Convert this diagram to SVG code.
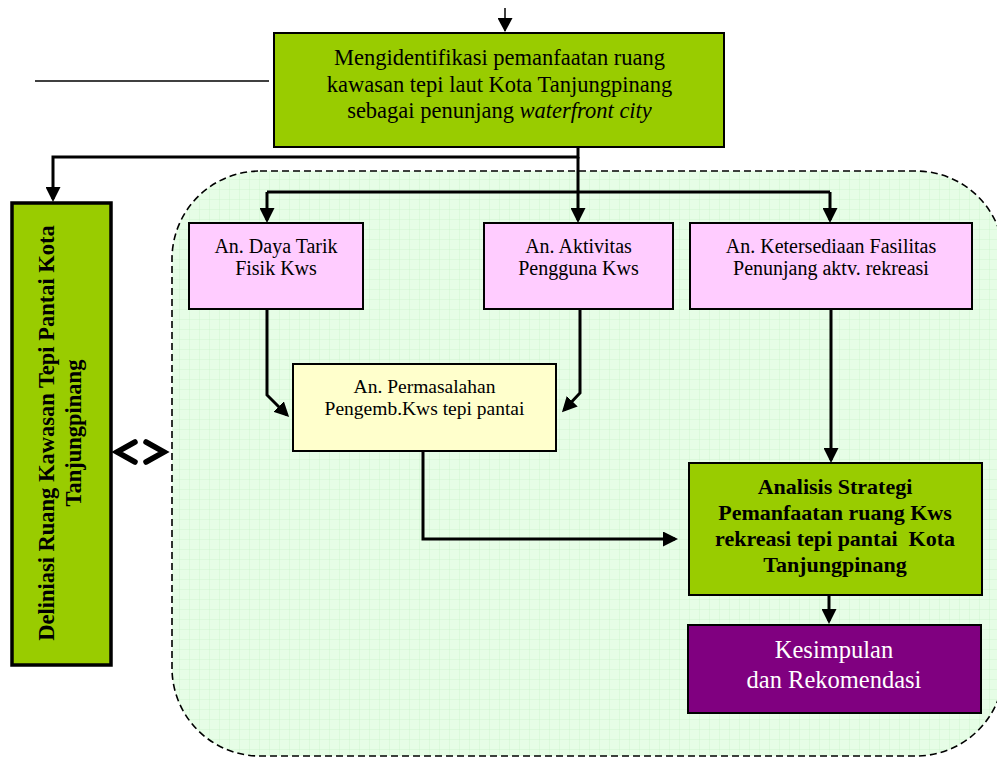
<svg xmlns="http://www.w3.org/2000/svg" width="997" height="758" viewBox="0 0 997 758">
  <defs>
    <pattern id="grid" width="10" height="10" patternUnits="userSpaceOnUse">
      <rect width="10" height="10" fill="#e6fde6"/>
      <path d="M10,0 V10 M0,10 H10" stroke="#c9f2c9" stroke-width="0.8" fill="none"/>
    </pattern>
    <marker id="ah" markerUnits="userSpaceOnUse" markerWidth="15" markerHeight="15" refX="12" refY="7.5" orient="auto">
      <path d="M0,0 L15,7.5 L0,15 Z" fill="#000"/>
    </marker>
    <marker id="ahs" markerUnits="userSpaceOnUse" markerWidth="14" markerHeight="15" refX="13" refY="7.5" orient="auto">
      <path d="M0,0 L14,7.5 L0,15 Z" fill="#000"/>
    </marker>
  </defs>
  <style>
    .t { font-family: "Liberation Serif", "Times New Roman", serif; fill: #000; text-anchor: middle; }
    .b { font-weight: bold; }
    .box { stroke: #000; stroke-width: 2; }
    .green { fill: #99cc00; }
    .pink { fill: #ffccff; }
    .yellow { fill: #ffffcc; }
    .purple { fill: #800080; }
    .conn { fill: none; stroke: #000; stroke-width: 3; }
    .thin { fill: none; stroke: #000; stroke-width: 1.5; }
  </style>

  <!-- dashed region -->
  <g id="region">
    <rect x="172" y="171" width="832" height="585" rx="88" ry="88" fill="url(#grid)" stroke="#000" stroke-width="1.6" stroke-dasharray="7,4"/>
  </g>

  <g id="node-top">
    <rect class="box green" x="274" y="33" width="450" height="114"/>
    <text class="t" font-size="22.5" x="499.5" y="65">Mengidentifikasi pemanfaatan ruang</text>
    <text class="t" font-size="22.5" x="499.5" y="92">kawasan tepi laut Kota Tanjungpinang</text>
    <text class="t" font-size="22.5" x="499.5" y="118">sebagai penunjang <tspan font-style="italic">waterfront city</tspan></text>
  </g>

  <g id="node-deliniasi">
    <rect x="12" y="203" width="99" height="462" fill="#99cc00" stroke="#000" stroke-width="3.5"/>
    <text class="t b" font-size="22.5" transform="translate(54,433) rotate(-90)">Deliniasi Ruang Kawasan Tepi Pantai Kota</text>
    <text class="t b" font-size="22.5" transform="translate(80.5,433) rotate(-90)">Tanjungpinang</text>
  </g>

  <g id="node-dayatarik">
    <rect class="box pink" x="189" y="223" width="174" height="86"/>
    <text class="t" font-size="20" x="276" y="253">An. Daya Tarik</text>
    <text class="t" font-size="20" x="276" y="275">Fisik Kws</text>
  </g>

  <g id="node-aktivitas">
    <rect class="box pink" x="484" y="223" width="189" height="86"/>
    <text class="t" font-size="20" x="578.5" y="253">An. Aktivitas</text>
    <text class="t" font-size="20" x="578.5" y="275">Pengguna Kws</text>
  </g>

  <g id="node-ketersediaan">
    <rect class="box pink" x="690" y="223" width="282" height="86"/>
    <text class="t" font-size="20" x="831" y="253">An. Ketersediaan Fasilitas</text>
    <text class="t" font-size="20" x="831" y="275">Penunjang aktv. rekreasi</text>
  </g>

  <g id="node-permasalahan">
    <rect class="box yellow" x="293" y="364" width="263" height="87"/>
    <text class="t" font-size="19.5" x="424.5" y="393">An. Permasalahan</text>
    <text class="t" font-size="19.5" x="424.5" y="415">Pengemb.Kws tepi pantai</text>
  </g>

  <g id="node-analisis">
    <rect class="box green" x="689" y="463" width="293" height="132"/>
    <text class="t b" font-size="22" x="835" y="494">Analisis Strategi</text>
    <text class="t b" font-size="22" x="835" y="520">Pemanfaatan ruang Kws</text>
    <text class="t b" font-size="22" x="835" y="546" style="white-space:pre">rekreasi tepi pantai  Kota</text>
    <text class="t b" font-size="22" x="835" y="572">Tanjungpinang</text>
  </g>

  <g id="node-kesimpulan">
    <rect class="box purple" x="688" y="625" width="293" height="88"/>
    <text class="t" font-size="24.5" x="834" y="658" fill="#fff" style="fill:#fff">Kesimpulan</text>
    <text class="t" font-size="24.5" x="834" y="688" style="fill:#fff">dan Rekomendasi</text>
  </g>

  <g id="connectors">
    <path class="thin" d="M505,8 V31" marker-end="url(#ahs)"/>
    <path class="thin" d="M35,81 H269"/>
    <path class="conn" d="M578,147 V157 H53 V199" marker-end="url(#ah)"/>
    <path class="conn" d="M578,157 V220" marker-end="url(#ah)"/>
    <path class="conn" d="M267,192 H830"/>
    <path class="conn" d="M267,192 V220" marker-end="url(#ah)"/>
    <path class="conn" d="M830,192 V220" marker-end="url(#ah)"/>
    <path class="conn" d="M267,309 V395 L287,415" marker-end="url(#ah)"/>
    <path class="conn" d="M580,309 V393 L564,410" marker-end="url(#ah)"/>
    <path class="conn" d="M423,451 V539 H675" marker-end="url(#ah)"/>
    <path class="conn" d="M831,309 V460" marker-end="url(#ah)"/>
    <path class="conn" d="M829,596 V621" marker-end="url(#ah)"/>
    <path d="M135,442 L117,452 L135,462 M146,442 L164,452 L146,462" fill="none" stroke="#000" stroke-width="5.5" stroke-linecap="round" stroke-linejoin="miter"/>
  </g>
</svg>
